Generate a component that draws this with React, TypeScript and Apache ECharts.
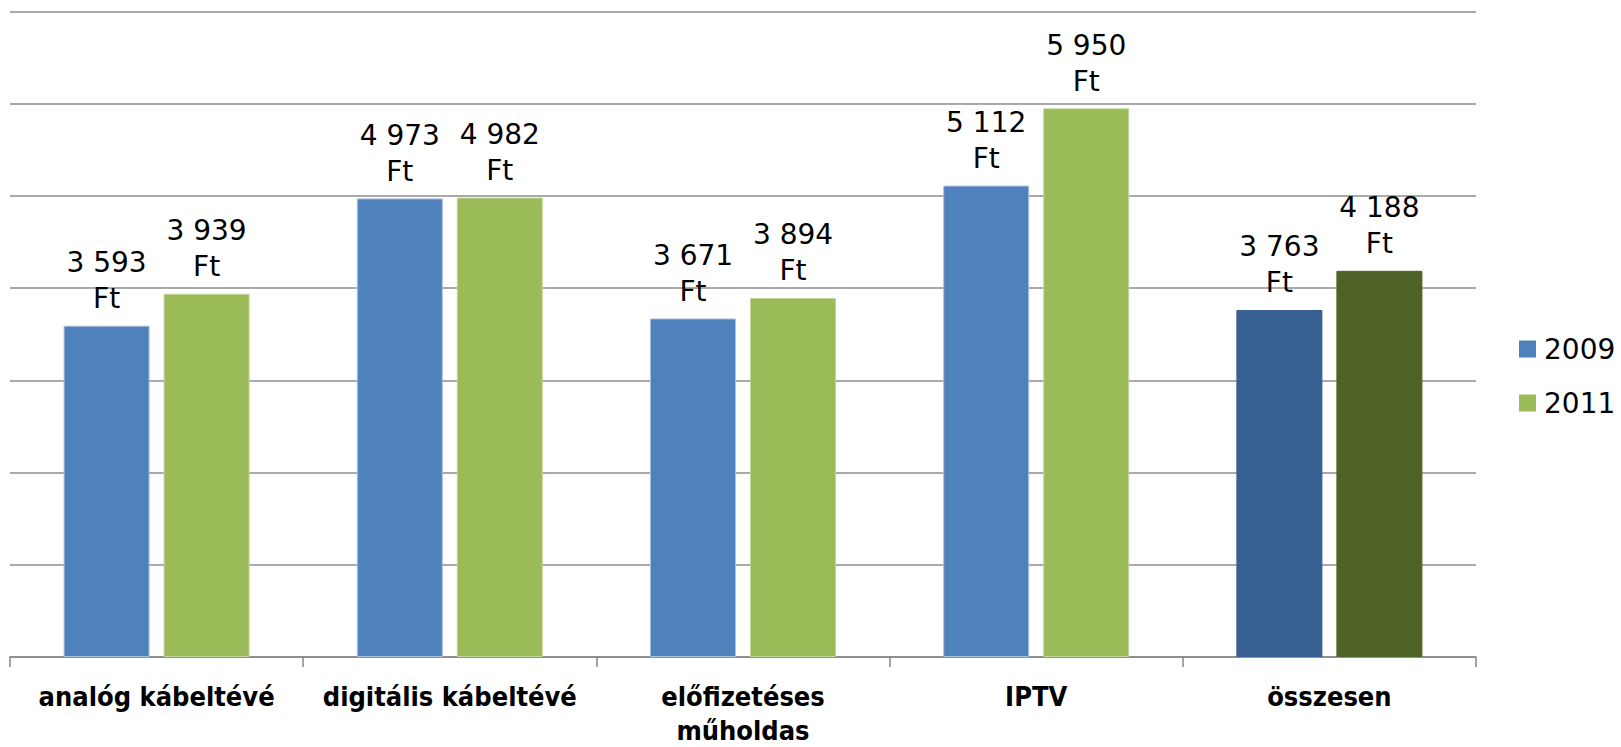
import React, { useEffect, useRef } from "react";
import * as echarts from "echarts";

const categories = ["analóg kábeltévé", "digitális kábeltévé", "előfizetéses\nműholdas", "IPTV", "összesen"];
const values2009 = [3593, 4973, 3671, 5112, 3763];
const values2011 = [3939, 4982, 3894, 5950, 4188];
const seriesNames = ["2009", "2011"];
const colors2009 = ["#4F81BD", "#4F81BD", "#4F81BD", "#4F81BD", "#375F91"];
const colors2011 = ["#9BBB59", "#9BBB59", "#9BBB59", "#9BBB59", "#4F6228"];

const fmt = (v: number) => {
  const s = String(v);
  return s.replace(/\B(?=(\d{3})+(?!\d))/g, " ") + "\nFt";
};

export default function App() {
  const ref = useRef<HTMLDivElement>(null);
  useEffect(() => {
    if (!ref.current) return;
    const chart = echarts.init(ref.current, null, { renderer: "svg" });
    const label = {
      show: true,
      position: "top" as const,
      distance: 9,
      formatter: (p: any) => fmt(p.value as number),
      fontFamily: "DejaVu Sans",
      fontSize: 28,
      lineHeight: 36,
      color: "#000",
    };
    chart.setOption({
      animation: false,
      backgroundColor: "#fff",
      grid: { left: 10, right: 145, top: 11.5, bottom: 89, containLabel: false },
      legend: {
        orient: "vertical",
        left: 1519,
        top: 332,
        padding: 0,
        itemWidth: 17,
        itemHeight: 17,
        itemGap: 20,
        icon: "rect",
        data: seriesNames,
        itemStyle: { borderWidth: 0 },
        textStyle: {
          fontFamily: "DejaVu Sans",
          fontSize: 28,
          lineHeight: 34,
          color: "#000",
          padding: [0, 0, 0, 3],
        },
      },
      xAxis: {
        type: "category",
        data: categories,
        axisLine: { show: true, lineStyle: { color: "#868686", width: 1.5 } },
        axisTick: { show: true, length: 10, lineStyle: { color: "#868686", width: 1.5 } },
        axisLabel: {
          interval: 0,
          margin: 22,
          fontFamily: "DejaVu Sans Condensed",
          fontWeight: "bold",
          fontSize: 27,
          lineHeight: 34,
          color: "#000",
        },
      },
      yAxis: {
        type: "value",
        min: 0,
        max: 7000,
        interval: 1000,
        axisLabel: { show: false },
        axisLine: { show: false },
        axisTick: { show: false },
        splitLine: { show: true, lineStyle: { color: "#8e8e8e", width: 1.5 } },
      },
      series: [
        {
          name: seriesNames[0],
          type: "bar",
          barWidth: 86,
          barGap: "16.3%",
          itemStyle: { color: "#4F81BD", borderColor: "#a9c0de", borderWidth: 1 },
          data: values2009.map((v, i) => ({
            value: v,
            itemStyle: { color: colors2009[i], borderColor: i === 4 ? colors2009[i] : "#a9c0de" },
          })),
          label,
        },
        {
          name: seriesNames[1],
          type: "bar",
          barWidth: 86,
          barGap: "16.3%",
          itemStyle: { color: "#9BBB59", borderColor: "#c3d69b", borderWidth: 1 },
          data: values2011.map((v, i) => ({
            value: v,
            itemStyle: { color: colors2011[i], borderColor: i === 4 ? colors2011[i] : "#c3d69b" },
          })),
          label,
        },
      ],
    });
    return () => chart.dispose();
  }, []);
  return (
    <div
      ref={ref}
      style={{ width: 1621, height: 747, position: "absolute", left: 0, top: 0 }}
    />
  );
}
